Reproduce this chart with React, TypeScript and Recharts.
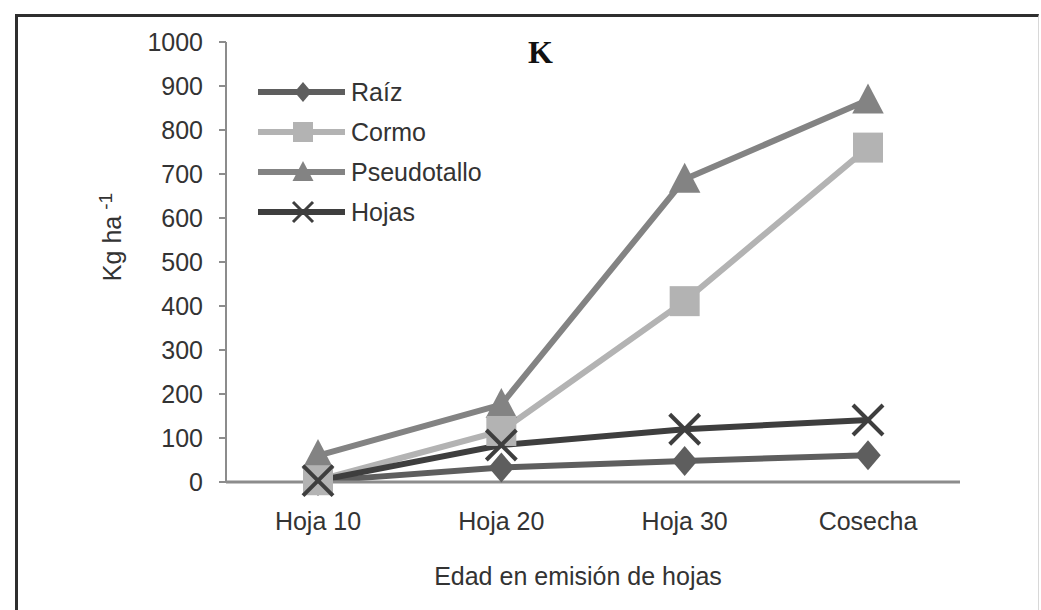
import React from 'react';
import { LineChart, Line, XAxis, YAxis } from 'recharts';

// Potasio acumulado (kg/ha) por órgano según edad de la planta
const etapas = ['Hoja 10', 'Hoja 20', 'Hoja 30', 'Cosecha'];
const raiz = [2, 33, 48, 61];
const cormo = [4, 116, 411, 760];
const pseudotallo = [60, 176, 688, 868];
const hojas = [3, 84, 120, 141];
const yTicks = [0, 100, 200, 300, 400, 500, 600, 700, 800, 900, 1000];

type Shape = 'diamond' | 'square' | 'triangle' | 'cross';

interface Serie {
    key: string;
    name: string;
    color: string;
    shape: Shape;
}

const series: Serie[] = [
    { key: 'raiz', name: 'Raíz', color: '#5e5e5e', shape: 'diamond' },
    { key: 'cormo', name: 'Cormo', color: '#b3b3b3', shape: 'square' },
    { key: 'pseudotallo', name: 'Pseudotallo', color: '#838383', shape: 'triangle' },
    { key: 'hojas', name: 'Hojas', color: '#3e3e3e', shape: 'cross' },
];

// orden de dibujo: las X de Hojas quedan encima del resto
const drawOrder = ['pseudotallo', 'raiz', 'cormo', 'hojas'];

const data = etapas.map((etapa, i) => ({
    etapa,
    raiz: raiz[i],
    cormo: cormo[i],
    pseudotallo: pseudotallo[i],
    hojas: hojas[i],
}));

const FONT = '"Liberation Sans", Arial, sans-serif';

function Marker({ shape, cx, cy, color, s }: { shape: Shape; cx: number; cy: number; color: string; s: number }) {
    if (shape === 'diamond') {
        const w = s * 0.85;
        return <polygon points={`${cx},${cy - s} ${cx + w},${cy} ${cx},${cy + s} ${cx - w},${cy}`} fill={color} />;
    }
    if (shape === 'square') {
        return <rect x={cx - s} y={cy - s} width={s * 2} height={s * 2} fill={color} />;
    }
    if (shape === 'triangle') {
        return <polygon points={`${cx},${cy - s * 1.1} ${cx + s * 1.05},${cy + s * 0.9} ${cx - s * 1.05},${cy + s * 0.9}`} fill={color} />;
    }
    return (
        <g stroke={color} strokeWidth={Math.max(3, s * 0.27)} strokeLinecap="butt">
            <line x1={cx - s} y1={cy - s} x2={cx + s} y2={cy + s} />
            <line x1={cx - s} y1={cy + s} x2={cx + s} y2={cy - s} />
        </g>
    );
}

const makeDot = (serie: Serie) => (props: any) => {
    const { cx, cy, index } = props;
    if (cx == null || cy == null) return <g key={`${serie.key}-${index}`} />;
    return (
        <g key={`${serie.key}-${index}`}>
            <Marker shape={serie.shape} cx={cx} cy={cy} color={serie.color} s={15} />
        </g>
    );
};

function LeyendaOrganos() {
    return (
        <div style={{ position: 'absolute', left: 258, top: 72, fontFamily: FONT, fontSize: 25, color: '#333' }}>
            {series.map(serie => (
                <div key={serie.key} style={{ display: 'flex', alignItems: 'center', height: 40 }}>
                    <svg width={90} height={30}>
                        <line x1={0} y1={15} x2={87} y2={15} stroke={serie.color} strokeWidth={6} />
                        <Marker shape={serie.shape} cx={45} cy={15} color={serie.color} s={10} />
                    </svg>
                    <span style={{ marginLeft: 3 }}>{serie.name}</span>
                </div>
            ))}
        </div>
    );
}

const YLabel = (props: any) => {
    const vb = props.viewBox || {};
    const x = (vb.x ?? 126) - 5;
    const y = (vb.y ?? 42) + 195;
    return (
        <text x={x} y={y} transform={`rotate(-90 ${x} ${y})`} textAnchor="middle" fill="#333" fontSize={25} fontFamily={FONT}>
            Kg ha
            <tspan dx={6} dy={-9} fontSize={19}>-1</tspan>
        </text>
    );
};

const XLabel = (props: any) => {
    const vb = props.viewBox || {};
    const x = (vb.x ?? 226) + (vb.width ?? 734) / 2 - 15;
    const y = (vb.y ?? 482) + 96;
    return (
        <text x={x} y={y} textAnchor="middle" dominantBaseline="middle" fill="#333" fontSize={25} fontFamily={FONT}>
            Edad en emisión de hojas
        </text>
    );
};

export default function App() {
    return (
        <div style={{ position: 'fixed', left: 0, top: 0, width: 1041, height: 610, background: '#fff', overflow: 'hidden' }}>
            <div
                style={{
                    position: 'absolute',
                    left: 15,
                    top: 14,
                    width: 1020,
                    height: 700,
                    borderLeft: '3px solid #2e2e2e',
                    borderTop: '3px solid #2e2e2e',
                    borderRight: '1px solid #d8d8d8',
                }}
            />
            <div
                style={{
                    position: 'absolute',
                    left: 528,
                    top: 34,
                    fontFamily: '"Liberation Serif", "Times New Roman", serif',
                    fontWeight: 'bold',
                    fontSize: 32,
                    color: '#111',
                }}
            >
                K
            </div>
            <div style={{ position: 'absolute', left: 0, top: 0 }}>
                <LineChart width={1041} height={610} data={data} margin={{ top: 42, right: 81, bottom: 28, left: 126 }}>
                    <XAxis
                        dataKey="etapa"
                        padding={{ left: 92, right: 92 }}
                        axisLine={{ stroke: '#8c8c8c', strokeWidth: 3 }}
                        tickLine={false}
                        tickSize={0}
                        tickMargin={30}
                        tick={{ fill: '#333', fontSize: 25, fontFamily: FONT }}
                        height={100}
                        label={<XLabel />}
                    />
                    <YAxis
                        domain={[0, 1000]}
                        ticks={yTicks}
                        interval={0}
                        width={100}
                        axisLine={{ stroke: '#8c8c8c', strokeWidth: 2 }}
                        tickLine={{ stroke: '#8c8c8c', strokeWidth: 2 }}
                        tickSize={7}
                        tickMargin={16}
                        tick={{ fill: '#333', fontSize: 25, fontFamily: FONT }}
                        label={<YLabel />}
                    />
                    {drawOrder.map(key => {
                        const serie = series.find(s => s.key === key)!;
                        return (
                            <Line
                                key={serie.key}
                                type="linear"
                                dataKey={serie.key}
                                name={serie.name}
                                stroke={serie.color}
                                strokeWidth={6}
                                dot={makeDot(serie)}
                                activeDot={false}
                                isAnimationActive={false}
                            />
                        );
                    })}
                </LineChart>
            </div>
            <LeyendaOrganos />
        </div>
    );
}
